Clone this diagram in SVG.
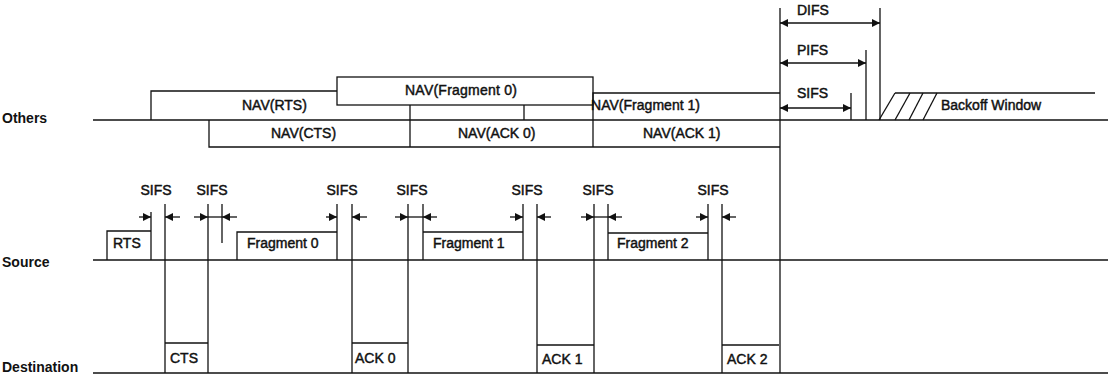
<svg xmlns="http://www.w3.org/2000/svg" width="1110" height="374" viewBox="0 0 1110 374">
<style>
  .ln{stroke:#111;stroke-width:1.3;fill:none}
  .t{font-family:"Liberation Sans",Arial,sans-serif;font-size:14px;fill:#111;stroke:#111;stroke-width:0.45}
  .lab{font-family:"Liberation Sans",Arial,sans-serif;font-size:14px;font-weight:bold;fill:#111}
  .ar{stroke:#111;stroke-width:1.3;fill:none;marker-end:url(#ah)}
  .dar{stroke:#111;stroke-width:1.3;fill:none;marker-end:url(#ah);marker-start:url(#ahs)}
</style>
<defs>
  <marker id="ah" viewBox="0 0 10 10" refX="10" refY="5" markerWidth="9" markerHeight="8" markerUnits="userSpaceOnUse" orient="auto">
    <path d="M0,0 L10,5 L0,10 z" fill="#111"/>
  </marker>
  <marker id="ahs" viewBox="0 0 10 10" refX="0" refY="5" markerWidth="9" markerHeight="8" markerUnits="userSpaceOnUse" orient="auto">
    <path d="M10,0 L0,5 L10,10 z" fill="#111"/>
  </marker>
</defs>
<rect width="1110" height="374" fill="#fff"/>

<!-- row labels and baselines -->
<g id="row-others">
  <text class="lab" x="2" y="123">Others</text>
  <line class="ln" x1="93" y1="120" x2="1108" y2="120"/>
</g>
<g id="row-source">
  <text class="lab" x="2" y="267">Source</text>
  <line class="ln" x1="93" y1="260" x2="1108" y2="260"/>
</g>
<g id="row-destination">
  <text class="lab" x="2" y="372">Destination</text>
  <line class="ln" x1="93" y1="373" x2="1108" y2="373"/>
</g>

<!-- NAV boxes -->
<g id="nav-rts">
  <polyline class="ln" points="151,120 151,91 337,91"/>
  <text class="t" x="242" y="110">NAV(RTS)</text>
</g>
<g id="nav-fragment0">
  <rect class="ln" x="337" y="77" width="256" height="28"/>
  <text class="t" x="405" y="95" textLength="112">NAV(Fragment 0)</text>
</g>
<g id="nav-cts">
  <polyline class="ln" points="209,120 209,147 410,147"/>
  <line class="ln" x1="410" y1="105" x2="410" y2="147"/>
  <line class="ln" x1="524" y1="105" x2="524" y2="120"/>
  <text class="t" x="271" y="138">NAV(CTS)</text>
</g>
<g id="nav-fragment1">
  <polyline class="ln" points="593,105 593,93 780,93"/>
  <text class="t" x="591" y="110" textLength="109">NAV(Fragment 1)</text>
</g>
<g id="nav-ack0">
  <line class="ln" x1="410" y1="147" x2="593" y2="147"/>
  <line class="ln" x1="593" y1="105" x2="593" y2="147"/>
  <text class="t" x="458" y="138">NAV(ACK 0)</text>
</g>
<g id="nav-ack1">
  <line class="ln" x1="593" y1="147" x2="780" y2="147"/>
  <text class="t" x="643" y="138">NAV(ACK 1)</text>
</g>

<!-- Source frames -->
<g id="frame-rts">
  <polyline class="ln" points="107,260 107,231 151,231"/>
  <text class="t" x="113" y="248">RTS</text>
</g>
<g id="frame-fragment0">
  <polyline class="ln" points="237,260 237,232 337,232"/>
  <text class="t" x="247" y="248">Fragment 0</text>
</g>
<g id="frame-fragment1">
  <polyline class="ln" points="423,232 523,232"/>
  <text class="t" x="433" y="248">Fragment 1</text>
</g>
<g id="frame-fragment2">
  <polyline class="ln" points="608,233 708,233"/>
  <text class="t" x="617" y="248">Fragment 2</text>
</g>

<!-- Destination frames -->
<g id="frame-cts">
  <line class="ln" x1="165" y1="343" x2="208" y2="343"/>
  <text class="t" x="170" y="363">CTS</text>
</g>
<g id="frame-ack0">
  <line class="ln" x1="352" y1="343" x2="408" y2="343"/>
  <text class="t" x="355" y="363">ACK 0</text>
</g>
<g id="frame-ack1">
  <line class="ln" x1="537" y1="345" x2="594" y2="345"/>
  <text class="t" x="542" y="364">ACK 1</text>
</g>
<g id="frame-ack2">
  <line class="ln" x1="722" y1="345" x2="779" y2="345"/>
  <text class="t" x="727" y="364">ACK 2</text>
</g>

<!-- SIFS labels -->
<g id="sifs-labels">
  <text class="t" x="156" y="195" text-anchor="middle">SIFS</text>
  <text class="t" x="212" y="195" text-anchor="middle">SIFS</text>
  <text class="t" x="342" y="195" text-anchor="middle">SIFS</text>
  <text class="t" x="412" y="195" text-anchor="middle">SIFS</text>
  <text class="t" x="527" y="195" text-anchor="middle">SIFS</text>
  <text class="t" x="598" y="195" text-anchor="middle">SIFS</text>
  <text class="t" x="713" y="195" text-anchor="middle">SIFS</text>
</g>

<!-- Interframe spaces (top right) -->
<g id="ifs">
  <text class="t" x="797" y="15">DIFS</text>
  <text class="t" x="797" y="55">PIFS</text>
  <text class="t" x="797" y="98">SIFS</text>
  <line class="ln" x1="880" y1="8" x2="880" y2="120"/>
  <line class="ln" x1="866" y1="50" x2="866" y2="120"/>
  <line class="ln" x1="851" y1="93" x2="851" y2="120"/>
</g>
<g id="backoff-window">
  <line class="ln" x1="895" y1="93" x2="1095" y2="93"/>
  <line class="ln" x1="879" y1="120" x2="895" y2="93"/>
  <line class="ln" x1="895" y1="120" x2="910" y2="93"/>
  <line class="ln" x1="909" y1="120" x2="923" y2="93"/>
  <line class="ln" x1="923" y1="120" x2="937" y2="93"/>
  <text class="t" x="941" y="110">Backoff Window</text>
</g>

<!-- connectors: timing lines and arrows -->
<g id="connectors">
  <line class="ln" x1="780" y1="8" x2="780" y2="373"/>
  <line class="ln" x1="151" y1="212" x2="151" y2="260"/>
  <line class="ln" x1="165" y1="204" x2="165" y2="373"/>
  <line class="ln" x1="208" y1="204" x2="208" y2="373"/>
  <line class="ln" x1="222" y1="204" x2="222" y2="243"/>
  <line class="ln" x1="337" y1="204" x2="337" y2="260"/>
  <line class="ln" x1="352" y1="204" x2="352" y2="373"/>
  <line class="ln" x1="408" y1="204" x2="408" y2="373"/>
  <line class="ln" x1="423" y1="204" x2="423" y2="260"/>
  <line class="ln" x1="523" y1="204" x2="523" y2="260"/>
  <line class="ln" x1="537" y1="204" x2="537" y2="373"/>
  <line class="ln" x1="594" y1="204" x2="594" y2="373"/>
  <line class="ln" x1="608" y1="204" x2="608" y2="260"/>
  <line class="ln" x1="708" y1="204" x2="708" y2="260"/>
  <line class="ln" x1="722" y1="204" x2="722" y2="373"/>

  <line class="ar" x1="139" y1="217" x2="151" y2="217"/>
  <line class="ar" x1="180" y1="217" x2="165" y2="217"/>
  <line class="ar" x1="194" y1="217" x2="208" y2="217"/>
  <line class="ln" x1="208" y1="217" x2="222" y2="217"/>
  <line class="ar" x1="237" y1="217" x2="222" y2="217"/>
  <line class="ar" x1="326" y1="217" x2="337" y2="217"/>
  <line class="ar" x1="367" y1="217" x2="352" y2="217"/>
  <line class="ar" x1="395" y1="217" x2="408" y2="217"/>
  <line class="ln" x1="408" y1="217" x2="423" y2="217"/>
  <line class="ar" x1="437" y1="217" x2="423" y2="217"/>
  <line class="ar" x1="510" y1="217" x2="523" y2="217"/>
  <line class="ar" x1="551" y1="217" x2="537" y2="217"/>
  <line class="ar" x1="581" y1="217" x2="594" y2="217"/>
  <line class="ln" x1="594" y1="217" x2="608" y2="217"/>
  <line class="ar" x1="622" y1="217" x2="608" y2="217"/>
  <line class="ar" x1="696" y1="217" x2="708" y2="217"/>
  <line class="ar" x1="736" y1="217" x2="722" y2="217"/>

  <line class="dar" x1="780" y1="23" x2="880" y2="23"/>
  <line class="dar" x1="780" y1="63" x2="866" y2="63"/>
  <line class="dar" x1="780" y1="108" x2="851" y2="108"/>
</g>
</svg>
